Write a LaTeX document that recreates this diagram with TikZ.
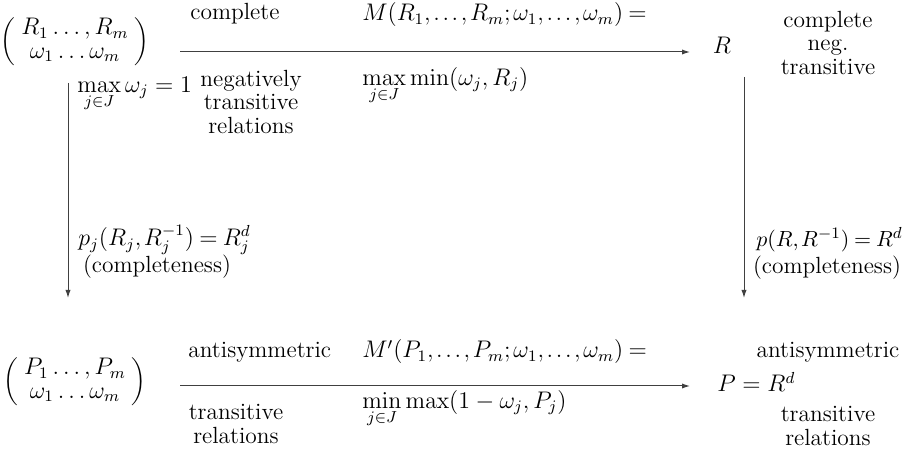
\documentclass[tikz,border=0pt]{standalone}
\usetikzlibrary{arrows.meta}
\newcommand\tightmath{\thinmuskip=2mu\medmuskip=3mu\thickmuskip=4mu}

\begin{document}
\begin{tikzpicture}[
        x=0.5pt, y=-0.5pt,
        lbl/.style={inner sep=0pt, align=center, font=\fontsize{11.7}{11.7}\selectfont},
        arrow/.style={-{Latex[length=4pt,width=2.6pt]}, line width=0.5pt, draw=black!75},
    ]
        \useasboundingbox (0,0) rectangle (902,453);

        % top row
        \node[lbl] (mA) at (75,42) {$\arraycolsep=3pt\biggl(\begin{array}{c} R_1\ldots,R_m\\ \omega_1\ldots\omega_m\end{array}\biggr)$};
        \node[lbl, anchor=west] (cmp) at (190,14) {complete};
        \node[lbl] (negtr) at (251,102) {negatively\\transitive\\relations};
        \node[lbl, anchor=west] (Mtop) at (362,15) {$\tightmath M(R_1,\ldots,R_m;\omega_1,\ldots,\omega_m) =$};
        \node[lbl, anchor=west] (Mtopb) at (362,86) {$\max\limits_{j\in J}\min(\omega_j,R_j)$};
        \node[lbl] (R) at (722,45) {$R$};
        \node[lbl] (Rprop) at (828,43) {complete\\neg.\\transitive};

        % vertical labels
        \node[lbl, anchor=west] (cond) at (77,94) {$\max\limits_{j\in J}\omega_j = 1$};
        \node[lbl, anchor=west] (pj) at (78,240) {$\tightmath p_j(R_j,R_j^{-1}) = R_j^d$};
        \node[lbl] (cpl) at (157,267) {(completeness)};
        \node[lbl, anchor=west, font=\fontsize{10.8}{10.8}\selectfont] (p) at (756,240) {$\tightmath p(R,R^{-1}) = R^d$};
        \node[lbl] (cpr) at (827,268) {(completeness)};

        % bottom row
        \node[lbl] (mB) at (75,382) {$\arraycolsep=3pt\biggl(\begin{array}{c} P_1\ldots,P_m\\ \omega_1\ldots\omega_m\end{array}\biggr)$};
        \node[lbl, anchor=west] (anti) at (188,352) {antisymmetric};
        \node[lbl] (trel) at (236,424) {transitive\\relations};
        \node[lbl, anchor=west] (Mbot) at (362,352) {$\tightmath M'(P_1,\ldots,P_m;\omega_1,\ldots,\omega_m) =$};
        \node[lbl, anchor=west] (Mbotb) at (362,409) {$\min\limits_{j\in J}\max(1-\omega_j,P_j)$};
        \node[lbl, anchor=west] (P) at (717,382) {$P = R^d$};
        \node[lbl] (Pant) at (828,352) {antisymmetric};
        \node[lbl] (Ptr) at (828,426) {transitive\\relations};

        % arrow ends
        \coordinate (t0) at (180,52);
        \coordinate (t1) at (690,52);
        \coordinate (b0) at (180,386);
        \coordinate (b1) at (690,386);
        \coordinate (l0) at (68,83);
        \coordinate (l1) at (68,298);
        \coordinate (r0) at (744,77);
        \coordinate (r1) at (744,298);

        \draw[arrow] (t0) -- (t1);
        \draw[arrow] (b0) -- (b1);
        \draw[arrow] (l0) -- (l1);
        \draw[arrow] (r0) -- (r1);

    \end{tikzpicture}
\end{document}
